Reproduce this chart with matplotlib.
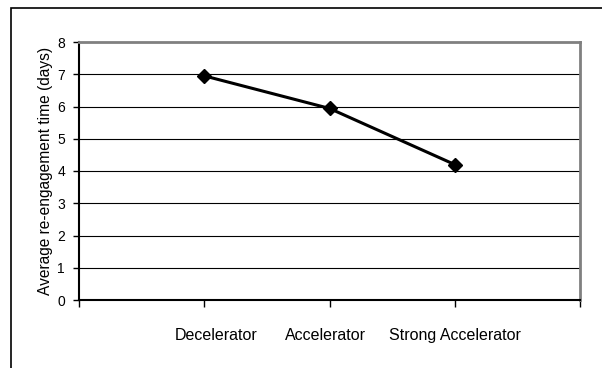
import matplotlib
matplotlib.use("Agg")
import matplotlib.pyplot as plt
from matplotlib.patches import Rectangle
from matplotlib.transforms import ScaledTranslation

plt.rcParams['font.family'] = ['Liberation Sans', 'DejaVu Sans']

# data
categories = ["Decelerator", "Accelerator", "Strong Accelerator"]
reengage_days = [6.95, 5.94, 4.2]
y_ticks = [0, 1, 2, 3, 4, 5, 6, 7, 8]

fig = plt.figure(figsize=(6.02, 3.68), dpi=100)

# outer chart-area border (right/bottom edges fall off the picture)
fig.patches.append(Rectangle((11 / 602, -0.1), 1.2, 1 - 8 / 368 + 0.1,
                             transform=fig.transFigure, fill=False,
                             edgecolor="black", linewidth=1.2))

ax = fig.add_axes([79 / 602, 68 / 368, 501 / 602, 258 / 368])

xpos = list(range(1, len(categories) + 1))
ax.plot(xpos, reengage_days, color="black", linewidth=2.2,
        marker="D", markersize=7.5, markerfacecolor="black",
        markeredgecolor="black", zorder=5, clip_on=False)

ax.set_xlim(0, len(categories) + 1)
ax.set_ylim(0, 8)

# gridlines
for y in y_ticks[1:-1]:
    ax.axhline(y, color="black", linewidth=0.8, zorder=1)

ax.set_yticks(y_ticks)
ax.tick_params(axis="y", direction="out", length=4, width=1, pad=6,
               labelsize=10, colors="black")

# major ticks on category boundaries, labels on the categories
ax.xaxis.remove_overlapping_locs = False
ax.set_xticks(range(0, len(categories) + 2))
ax.set_xticklabels([])
ax.tick_params(axis="x", which="major", direction="out", length=5, width=1)
ax.set_xticks(xpos, minor=True)
ax.set_xticklabels(categories, minor=True)
ax.tick_params(axis="x", which="minor", length=0, pad=20, labelsize=11.5)

# excel nudges the category labels a little off-centre
nudge_px = [12, -4, 0]
for tick, dx in zip(ax.xaxis.get_minor_ticks(), nudge_px):
    lbl = tick.label1
    lbl.set_transform(lbl.get_transform() + ScaledTranslation(dx / 100, 0, fig.dpi_scale_trans))

ax.set_ylabel("Average re-engagement time (days)", fontsize=11.2, labelpad=3)

for side in ["left", "bottom"]:
    ax.spines[side].set_color("black")
    ax.spines[side].set_linewidth(1.5)
for side in ["top", "right"]:
    ax.spines[side].set_color("#808080")
    ax.spines[side].set_linewidth(2)

fig.savefig("out.png", dpi=100)
